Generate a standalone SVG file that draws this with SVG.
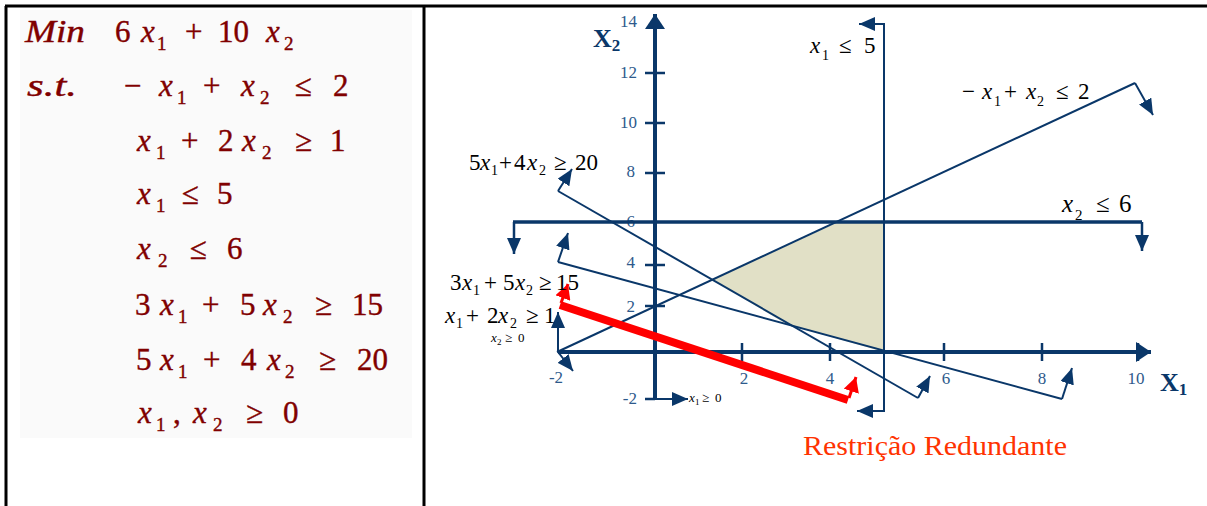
<svg xmlns="http://www.w3.org/2000/svg" width="1207" height="506" viewBox="0 0 1207 506" font-family="'Liberation Serif', 'Times New Roman', serif">
<style>
.f{fill:#800000;stroke:#800000;stroke-width:0.4;font-size:31px}
.i{font-style:italic}
.s{font-size:19px}
.g{fill:#000;font-size:23px}
.gs{font-size:14px}
.sm{fill:#000;font-size:13px}
.sms{font-size:9px}
.ax{fill:#2E5A8C;font-size:17px}
.axe{text-anchor:end}
.axm{text-anchor:middle}
.lab{fill:#0A3769;font-weight:bold;font-size:26px}
.labs{font-size:17px}
.ln{fill:none;stroke:#0A3769;stroke-width:2}
.ar{fill:none;stroke:#0A3769;stroke-width:2;marker-end:url(#ah)}
.arr{fill:none;stroke:#FF0000;stroke-width:3;marker-end:url(#ahr)}
.axis{fill:none;stroke:#0A3769;stroke-width:4}
.tick{fill:none;stroke:#0A3769;stroke-width:2.5}
.frame{fill:none;stroke:#000;stroke-width:3}
</style>
<defs>
<marker id="ah" markerUnits="userSpaceOnUse" markerWidth="16" markerHeight="14" refX="16" refY="7" orient="auto" viewBox="0 0 16 14"><path d="M0,0 L16,7 L0,14 z" fill="#0A3769"/></marker>
<marker id="ahr" markerUnits="userSpaceOnUse" markerWidth="15" markerHeight="16" refX="15" refY="8" orient="auto" viewBox="0 0 15 16"><path d="M0,0 L15,8 L0,16 z" fill="#FF0000"/></marker>
<marker id="axh" markerUnits="userSpaceOnUse" markerWidth="15" markerHeight="20" refX="15" refY="10" orient="auto" viewBox="0 0 15 20"><path d="M0,0 L15,10 L0,20 z" fill="#0A3769"/></marker>
</defs>

<g id="frame">
<rect x="20" y="10" width="392" height="428" fill="#FAFAFA"/>
<path class="frame" d="M5,6 H1207 M6,6 V506 M424,6 V506"/>
</g>

<g id="model" font-family="'Liberation Serif', 'Times New Roman', serif">
<text class="f" y="42"><tspan x="25" class="i" textLength="60" lengthAdjust="spacingAndGlyphs">Min</tspan><tspan x="115">6</tspan><tspan x="141" class="i">x</tspan><tspan x="157" y="50" class="s">1</tspan><tspan x="185" y="42">+</tspan><tspan x="218">10</tspan><tspan x="266" class="i">x</tspan><tspan x="284" y="50" class="s">2</tspan></text>
<text class="f" y="96"><tspan x="27" class="i" textLength="50" lengthAdjust="spacingAndGlyphs">s.t.</tspan><tspan x="124">−</tspan><tspan x="159" class="i">x</tspan><tspan x="177" y="104" class="s">1</tspan><tspan x="203" y="96">+</tspan><tspan x="241" class="i">x</tspan><tspan x="260" y="104" class="s">2</tspan><tspan x="295" y="96">≤</tspan><tspan x="333">2</tspan></text>
<text class="f" y="151"><tspan x="137" class="i">x</tspan><tspan x="156" y="159" class="s">1</tspan><tspan x="181" y="151">+</tspan><tspan x="218">2</tspan><tspan x="242" class="i">x</tspan><tspan x="262" y="159" class="s">2</tspan><tspan x="295" y="151">≥</tspan><tspan x="330">1</tspan></text>
<text class="f" y="204"><tspan x="137" class="i">x</tspan><tspan x="156" y="212" class="s">1</tspan><tspan x="182" y="204">≤</tspan><tspan x="217">5</tspan></text>
<text class="f" y="259"><tspan x="137" class="i">x</tspan><tspan x="158" y="267" class="s">2</tspan><tspan x="190" y="259">≤</tspan><tspan x="227">6</tspan></text>
<text class="f" y="315"><tspan x="135">3</tspan><tspan x="160" class="i">x</tspan><tspan x="178" y="323" class="s">1</tspan><tspan x="202" y="315">+</tspan><tspan x="240">5</tspan><tspan x="263" class="i">x</tspan><tspan x="283" y="323" class="s">2</tspan><tspan x="315" y="315">≥</tspan><tspan x="352">15</tspan></text>
<text class="f" y="370"><tspan x="136">5</tspan><tspan x="160" class="i">x</tspan><tspan x="178" y="378" class="s">1</tspan><tspan x="203" y="370">+</tspan><tspan x="241">4</tspan><tspan x="267" class="i">x</tspan><tspan x="285" y="378" class="s">2</tspan><tspan x="319" y="370">≥</tspan><tspan x="357">20</tspan></text>
<text class="f" y="423"><tspan x="138" class="i">x</tspan><tspan x="156" y="431" class="s">1</tspan><tspan x="173" y="423">,</tspan><tspan x="193" class="i">x</tspan><tspan x="213" y="431" class="s">2</tspan><tspan x="246" y="423">≥</tspan><tspan x="283">0</tspan></text>
</g>

<g id="feasible">
<polygon points="713,280 838,222 884,222 884,352 786,324" fill="#E1E0C6"/>
</g>

<g id="axes" font-family="'Liberation Serif', 'Times New Roman', serif">
<path class="axis" d="M655,399 V14" marker-end="url(#axh)"/>
<path class="axis" d="M558,352 H1151" marker-end="url(#axh)"/>
<path class="tick" d="M645,73 H665 M645,123 H665 M645,173 H665 M645,265 H665 M645,306 H665 M645,399 H655"/>
<path class="tick" d="M742,343 V361 M830,343 V361 M944,343 V361 M1042,343 V361 M1138,343 V361"/>
<text class="ax axe" x="637" y="27">14</text>
<text class="ax axe" x="637" y="78">12</text>
<text class="ax axe" x="637" y="128">10</text>
<text class="ax axe" x="635" y="177">8</text>
<text class="ax axe" x="635" y="227">6</text>
<text class="ax axe" x="635" y="268">4</text>
<text class="ax axe" x="635" y="312">2</text>
<text class="ax axe" x="637" y="404">-2</text>
<text class="ax axm" x="556" y="383">-2</text>
<text class="ax axm" x="744" y="384">2</text>
<text class="ax axm" x="830" y="384">4</text>
<text class="ax axm" x="946" y="384">6</text>
<text class="ax axm" x="1042" y="384">8</text>
<text class="ax axm" x="1136" y="384">10</text>
<text class="lab" x="593" y="47">X<tspan class="labs" y="51">2</tspan></text>
<text class="lab" x="1160" y="391">X<tspan class="labs" y="395">1</tspan></text>
</g>

<g id="constraints">
<path class="ar" d="M884,200 V24 H859"/>
<path class="ar" d="M884,200 V411 H857"/>
<path class="ln" d="M557,352 L1135,83"/>
<path class="ar" d="M1135,83 L1153,115"/>
<path class="ar" d="M558,352 L573,371"/>
<path class="ln" style="stroke-width:3.5" d="M513,222 H1142"/>
<path class="ar" style="stroke-width:2.5" d="M514,222 V254"/>
<path class="ar" style="stroke-width:2.5" d="M1142,222 V251"/>
<path class="ln" d="M558,191 L918,398"/>
<path class="ar" d="M558,191 L572,169"/>
<path class="ar" d="M918,398 L930,376"/>
<path class="ln" d="M558,262 L1062,399"/>
<path class="ar" d="M558,262 L568,233"/>
<path class="ar" d="M1062,399 L1072,368"/>
<path class="ar" d="M558,352 V312"/>
<path class="ar" d="M655,399 H688"/>
<path fill="none" stroke="#FF0000" stroke-width="8" d="M560,305 L848,400"/>
<path class="arr" d="M561,303 L568,284"/>
<path class="arr" d="M849,398 L856,377"/>
</g>

<g id="labels" font-family="'Liberation Serif', 'Times New Roman', serif">
<text class="g" y="53"><tspan x="810" class="i">x</tspan><tspan x="822" y="60" class="gs">1</tspan><tspan x="839" y="53">≤</tspan><tspan x="864">5</tspan></text>
<text class="g" y="99"><tspan x="962">−</tspan><tspan x="982" class="i">x</tspan><tspan x="994" y="106" class="gs">1</tspan><tspan x="1004" y="99">+</tspan><tspan x="1026" class="i">x</tspan><tspan x="1037" y="106" class="gs">2</tspan><tspan x="1056" y="99">≤</tspan><tspan x="1078">2</tspan></text>
<text class="g" y="212" style="font-size:25px"><tspan x="1062" class="i">x</tspan><tspan x="1075" y="220" class="gs" style="font-size:15px">2</tspan><tspan x="1096" y="212">≤</tspan><tspan x="1119">6</tspan></text>
<text class="g" y="170"><tspan x="469">5</tspan><tspan x="480" class="i">x</tspan><tspan x="491" y="175" class="gs">1</tspan><tspan x="499" y="170">+</tspan><tspan x="514">4</tspan><tspan x="527" class="i">x</tspan><tspan x="539" y="175" class="gs">2</tspan><tspan x="554" y="170">≥</tspan><tspan x="575">20</tspan></text>
<text class="g" y="290"><tspan x="450">3</tspan><tspan x="462" class="i">x</tspan><tspan x="473" y="295" class="gs">1</tspan><tspan x="484" y="290">+</tspan><tspan x="503">5</tspan><tspan x="515" class="i">x</tspan><tspan x="526" y="295" class="gs">2</tspan><tspan x="539" y="290">≥</tspan><tspan x="556">15</tspan></text>
<text class="g" y="323"><tspan x="445" class="i">x</tspan><tspan x="456" y="328" class="gs">1</tspan><tspan x="466" y="323">+</tspan><tspan x="487">2</tspan><tspan x="498" class="i">x</tspan><tspan x="510" y="328" class="gs">2</tspan><tspan x="526" y="323">≥</tspan><tspan x="544">1</tspan></text>
<text class="sm" y="342"><tspan x="491" class="i">x</tspan><tspan x="497" y="345" class="sms">2</tspan><tspan x="505" y="342">≥</tspan><tspan x="518">0</tspan></text>
<text class="sm" y="402"><tspan x="689" class="i">x</tspan><tspan x="695" y="405" class="sms">1</tspan><tspan x="702" y="402">≥</tspan><tspan x="715">0</tspan></text>
<text x="803" y="455" font-size="27" fill="#FF3300" textLength="264" lengthAdjust="spacingAndGlyphs">Restrição Redundante</text>
</g>
</svg>
